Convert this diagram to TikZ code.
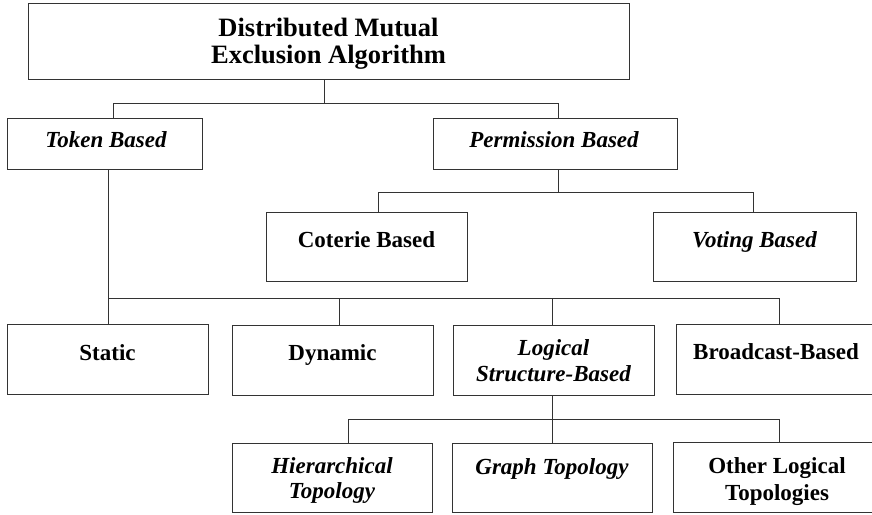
\documentclass[tikz,border=0pt]{standalone}
\usepackage{fontspec}
\setmainfont{Liberation Serif}
\begin{document}
\begin{tikzpicture}[x=1pt,y=-1pt,
  box/.style={draw=black!80, line width=1pt, inner sep=0pt},
  lbl/.style={anchor=base, inner sep=0pt, font=\bfseries\fontsize{23}{26}\selectfont},
  ilbl/.style={lbl, font=\bfseries\itshape\fontsize{23}{26}\selectfont},
  conn/.style={draw=black!80, line width=1pt}]
\useasboundingbox (0,0) rectangle (872,514);

% boxes
\node[box, minimum width=601pt, minimum height=76pt] (top) at (328.5,41) {};
\node[box, minimum width=195pt, minimum height=51pt] (token) at (104.5,143.5) {};
\node[box, minimum width=244pt, minimum height=51pt] (perm) at (555,143.5) {};
\node[box, minimum width=201pt, minimum height=69pt] (coterie) at (366.5,246.5) {};
\node[box, minimum width=203pt, minimum height=69pt] (voting) at (754.5,246.5) {};
\node[box, minimum width=201pt, minimum height=70pt] (static) at (107.5,359) {};
\node[box, minimum width=201pt, minimum height=70pt] (dynamic) at (332.5,360) {};
\node[box, minimum width=201pt, minimum height=70pt] (logical) at (553.5,360) {};
\node[box, minimum width=204pt, minimum height=70pt] (broadcast) at (778,359) {};
\node[box, minimum width=200pt, minimum height=69pt] (hier) at (332,477.5) {};
\node[box, minimum width=200pt, minimum height=69pt] (graph) at (552,477.5) {};
\node[box, minimum width=208pt, minimum height=70pt] (other) at (777,477) {};

% labels
\node[lbl, font=\bfseries\fontsize{26.5}{27}\selectfont] (top-a) at (328.5,36) {Distributed Mutual};
\node[lbl, font=\bfseries\fontsize{26.5}{27}\selectfont] (top-b) at (328.5,63) {Exclusion Algorithm};
\node[ilbl] (token-t) at (106,147) {Token Based};
\node[ilbl] (perm-t) at (554,147) {Permission Based};
\node[lbl] (coterie-t) at (366.5,247) {Coterie Based};
\node[ilbl] (voting-t) at (754.5,247) {Voting Based};
\node[lbl] (static-t) at (107.5,360) {Static};
\node[lbl] (dynamic-t) at (332.5,360) {Dynamic};
\node[ilbl] (logical-a) at (553.5,355) {Logical};
\node[ilbl] (logical-b) at (553.5,381) {Structure-Based};
\node[lbl] (broadcast-t) at (776,359) {Broadcast-Based};
\node[ilbl] (hier-a) at (332,473) {Hierarchical};
\node[ilbl] (hier-b) at (332,498) {Topology};
\node[ilbl] (graph-t) at (552,474) {Graph Topology};
\node[lbl] (other-a) at (777,473) {Other Logical};
\node[lbl] (other-b) at (777,500) {Topologies};

% bus levels
\coordinate (busA) at (0,103);
\coordinate (busP) at (0,192);
\coordinate (busT) at (0,298);
\coordinate (busL) at (0,419);

% root -> token / permission
\draw[conn] ([xshift=-4.5pt]top.south) -- ([xshift=-4.5pt]top.south |- busA);
\draw[conn] ([xshift=8.5pt]token.north) |- ([xshift=3pt]perm.north |- busA) -- ([xshift=3pt]perm.north);

% permission -> coterie / voting
\draw[conn] ([xshift=3pt]perm.south) -- ([xshift=3pt]perm.south |- busP);
\draw[conn] ([xshift=11.5pt]coterie.north) |- ([xshift=-1.5pt]voting.north |- busP) -- ([xshift=-1.5pt]voting.north);

% token -> static / dynamic / logical / broadcast
\draw[conn] ([xshift=3.5pt]token.south) -- ([xshift=3.5pt]token.south |- static.north);
\draw[conn] ([xshift=3.5pt]token.south |- busT) -- ([xshift=1pt]broadcast.north |- busT) -- ([xshift=1pt]broadcast.north);
\draw[conn] ([xshift=6.5pt]dynamic.north) -- ([xshift=6.5pt]dynamic.north |- busT);
\draw[conn] ([xshift=-1.5pt]logical.north) -- ([xshift=-1.5pt]logical.north |- busT);

% logical -> topologies
\draw[conn] ([xshift=-1.5pt]logical.south) -- ([xshift=-1.5pt]logical.south |- busL);
\draw[conn] ([xshift=16pt]hier.north) |- ([xshift=2pt]other.north |- busL) -- ([xshift=2pt]other.north);
\draw[conn] (graph.north) -- (graph.north |- busL);
\end{tikzpicture}
\end{document}
